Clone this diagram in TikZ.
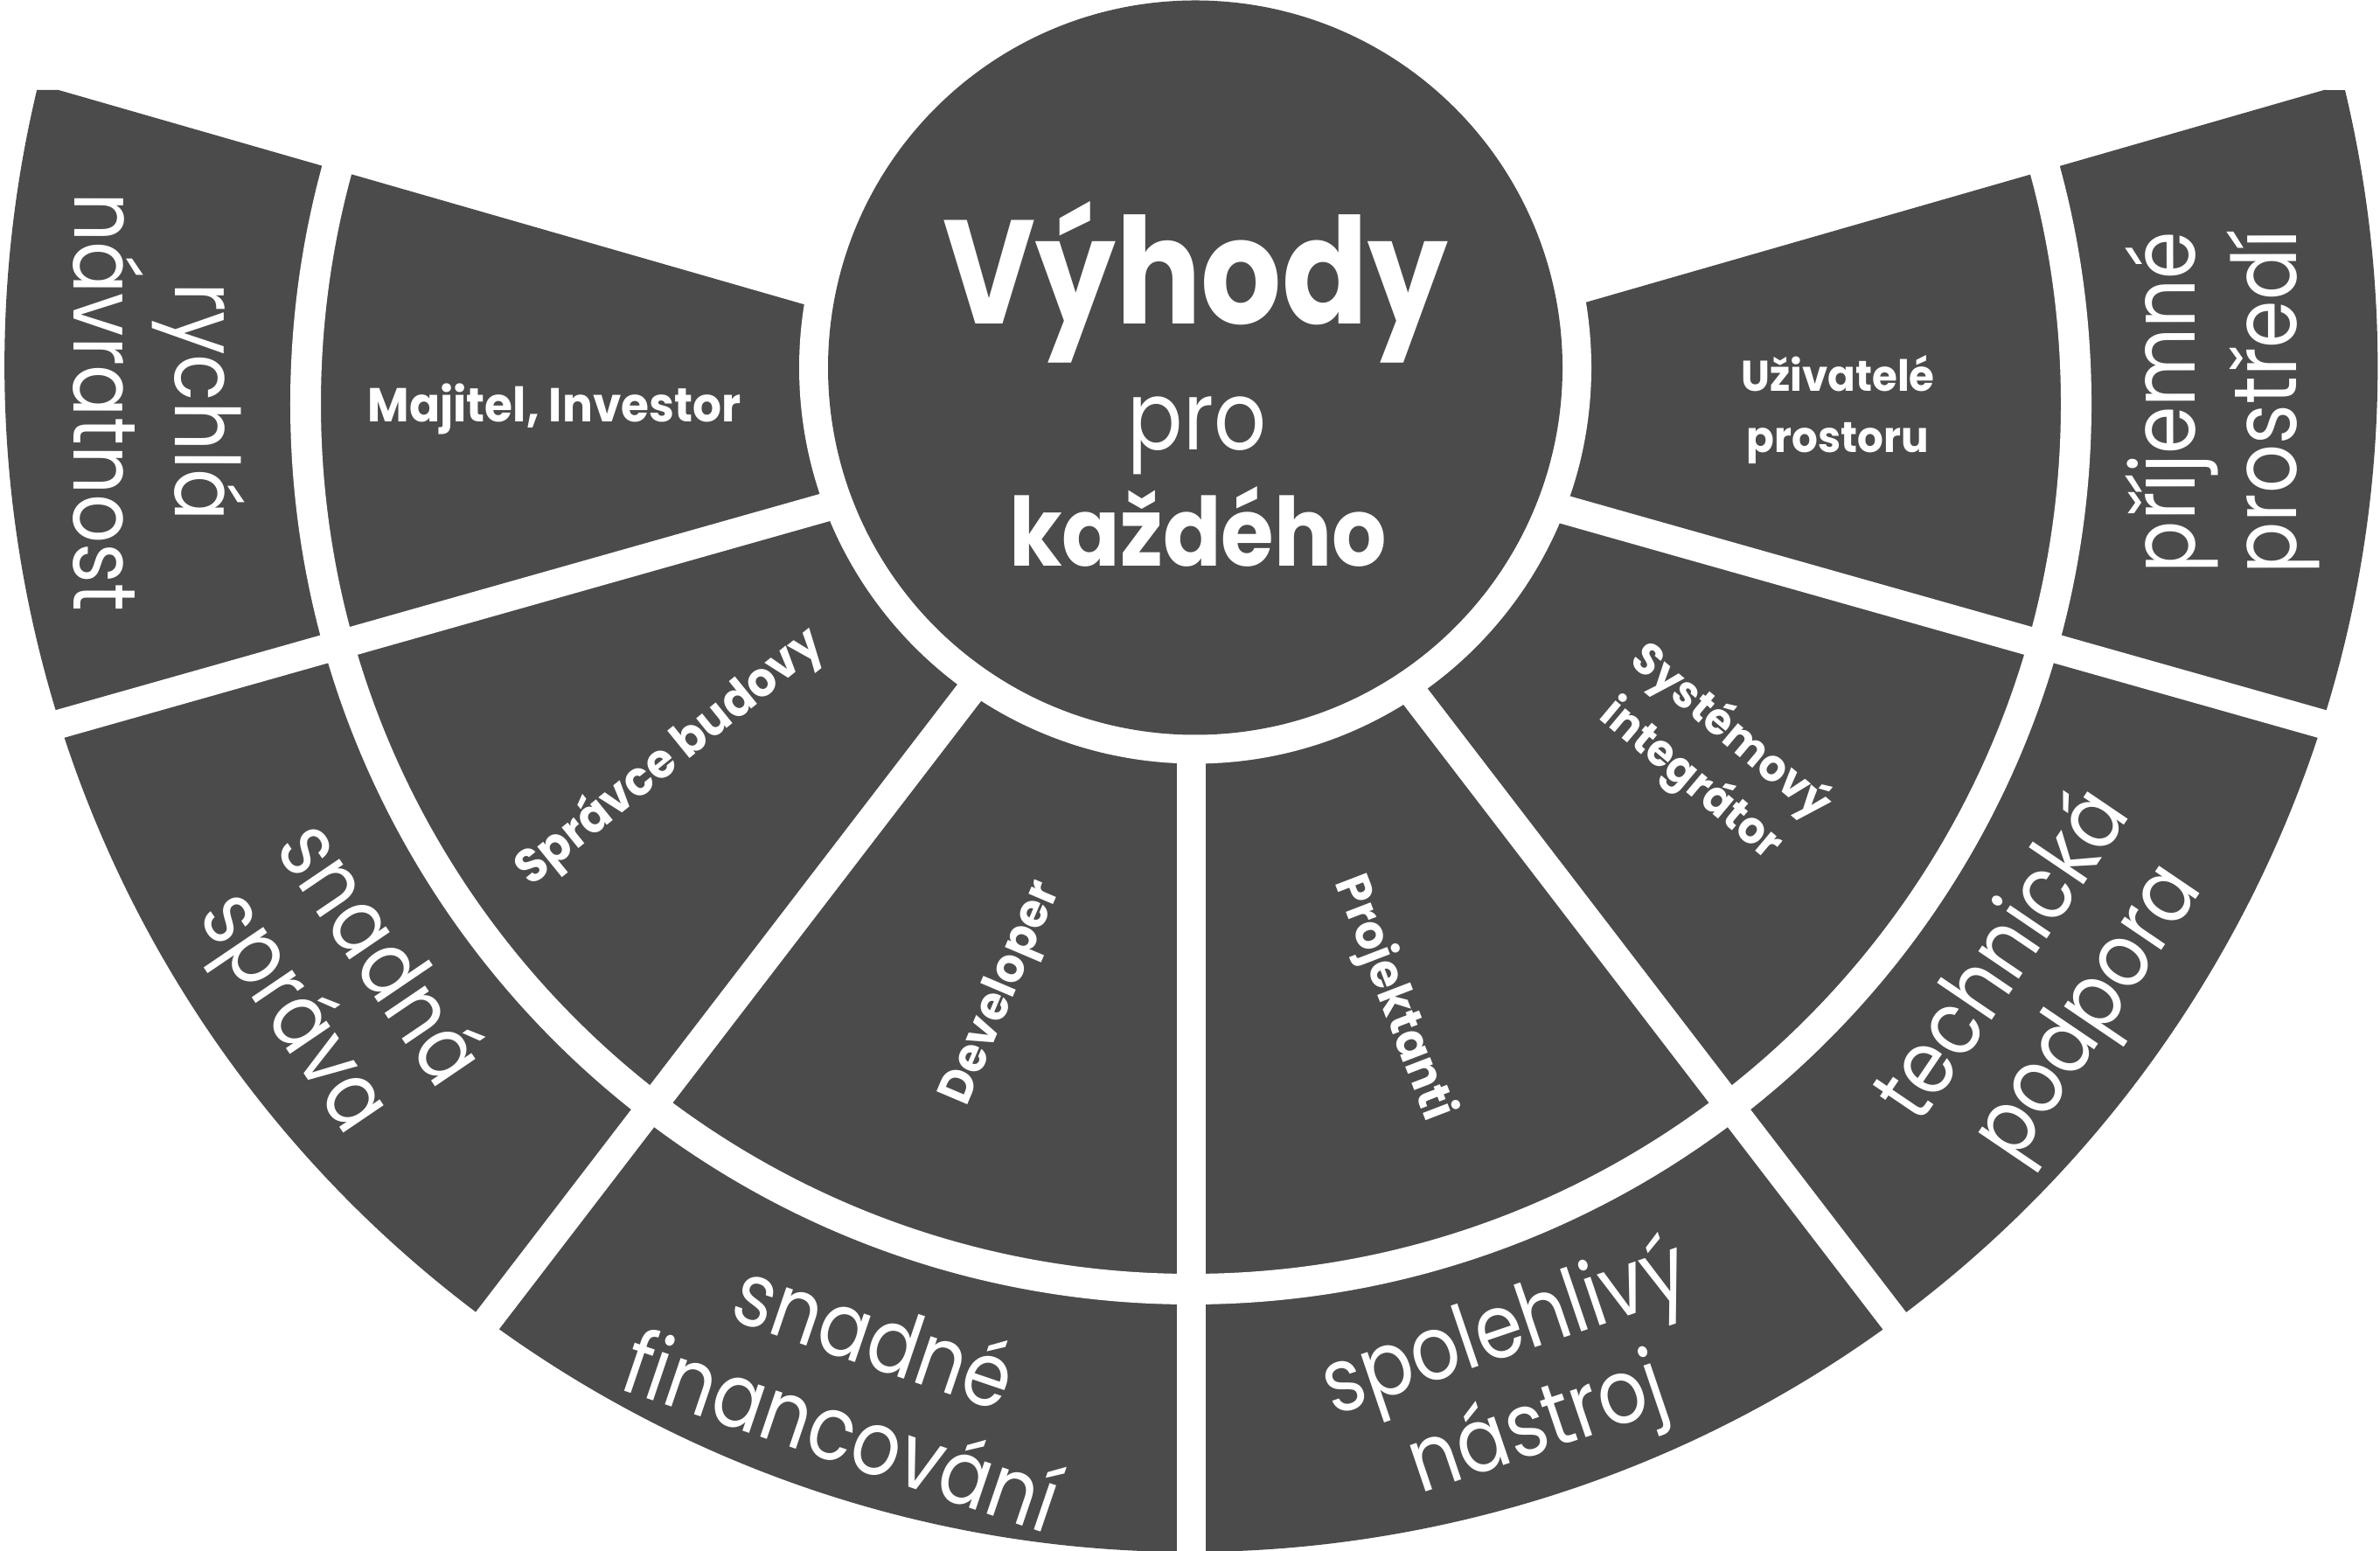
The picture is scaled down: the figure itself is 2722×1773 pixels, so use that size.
\documentclass[tikz,border=0pt]{standalone}
\usepackage{fontspec}
\setmainfont{Poppins}
\newfontfamily\cgA{Poppins}[FakeStretch=0.86]
\newfontfamily\cgB{Poppins}[FakeStretch=0.9]
\newfontfamily\cgC{Poppins}[FakeStretch=0.95]
\definecolor{dk}{HTML}{4B4B4B}
\begin{document}
\begin{tikzpicture}[x=0.01cm,y=0.01cm,
  outertxt/.style={text=white, inner sep=0pt, align=center, font=\cgA\fontsize{29}{33}\selectfont},
  innertxt/.style={text=white, inner sep=0pt, align=center, font=\cgC\bfseries\fontsize{15.5}{20}\selectfont},
  smalltxt/.style={innertxt, font=\cgC\bfseries\fontsize{14.5}{20}\selectfont},
  sepline/.style={white, line width=3.3mm},
]
\useasboundingbox (0,0) rectangle (2722,1773);
\clip (0,0) rectangle (2722,1773);
\coordinate (F) at (1362,1311);
\coordinate (C) at (1367,1352.5);
% fan body
\fill[dk] (42.1,1670) -- (67,1670) -- (1362.5,1297.4) -- (2658,1670) -- (2682,1669.8)
  arc[start angle=13.41, end angle=-193.41, radius=1357] -- cycle;
% separators
\foreach \a in {195.8,232.5,270,307.5,344.2} \draw[sepline] (F) -- ++(\a:1600);
% ring gap
\draw[white, line width=3.5mm] (F) circle[radius=1012.5];
% centre circle
\fill[white] (C) circle[radius=453];
\fill[dk] (C) circle[radius=420];
% centre text
\node[text=white, inner sep=0pt, anchor=base, font=\cgA\bfseries\fontsize{48}{48}\selectfont] (vyhody) at (1367.5,1402) {Výhody};
\node[text=white, inner sep=0pt, anchor=base, font=\cgA\fontsize{31}{31}\selectfont] (pro) at (1369,1258) {pro};
\node[text=white, inner sep=0pt, anchor=base, font=\cgB\bfseries\fontsize{31}{31}\selectfont] (kazdeho) at (1370,1125) {každého};
% outer ring texts
\node[outertxt, rotate=-90.1] (o1) at ([shift={(179.9:1180)}]F) {rychlá\\návratnost};
\node[outertxt, rotate=-55.85] (o2) at ([shift={(214.15:1185)}]F) {snadná\\správa};
\node[outertxt, rotate=-18.75] (o3) at ([shift={(251.25:1180)}]F) {snadné\\financování};
\node[outertxt, rotate=18.75] (o4) at ([shift={(288.75:1180)}]F) {spolehlivý\\nástroj};
\node[outertxt, rotate=55.85] (o5) at ([shift={(325.85:1185)}]F) {technická\\podpora};
\node[outertxt, rotate=90.1] (o6) at ([shift={(0.1:1180)}]F) {příjemné\\prostředí};
% inner ring texts
\node[innertxt] (i1) at ([shift={(180.5:728)}]F) {Majitel, Investor};
\node[innertxt, rotate=39] (i2) at ([shift={(214.15:720)}]F) {Správce budovy};
\node[innertxt, rotate=67] (i3) at ([shift={(252.3:708)}]F) {Developer};
\node[innertxt, rotate=-69] (i4) at ([shift={(288.75:718)}]F) {Projektanti};
\node[smalltxt, rotate=-40] (i5) at ([shift={(325.85:718)}]F) {Systémový\\integrátor};
\node[innertxt, font=\cgC\bfseries\fontsize{14}{20}\selectfont] (i6) at ([shift={(359.5:740)}]F) {Uživatelé\\prostoru};
\end{tikzpicture}
\end{document}
